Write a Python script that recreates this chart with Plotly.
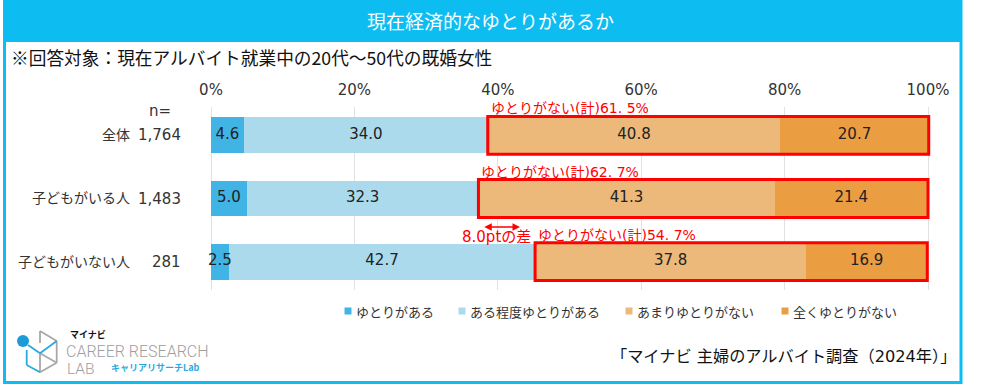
import plotly.graph_objects as go

# ---------------- data ----------------
categories = ["全体", "子どもがいる人", "子どもがいない人"]
n_values = ["1,764", "1,483", "281"]
series_names = ["ゆとりがある", "ある程度ゆとりがある", "あまりゆとりがない", "全くゆとりがない"]
yutori_aru = [4.6, 5.0, 2.5]
teido_aru = [34.0, 32.3, 42.7]
amari_nai = [40.8, 41.3, 37.8]
mattaku_nai = [20.7, 21.4, 16.9]
nai_total_labels = ["61. 5%", "62. 7%", "54. 7%"]
diff_label = "8.0ptの差"
x_tick_vals = [0, 20, 40, 60, 80, 100]

colors = ["#41B4E6", "#AADAEC", "#EDB97B", "#EB9D42"]
series = [yutori_aru, teido_aru, amari_nai, mattaku_nai]

W, H = 981, 386
L, R, T, B = 207, 48, 107, 96
PW = W - L - R
PH = H - T - B
FONT = "DejaVu Sans, Noto Sans CJK JP, sans-serif"
JP = "Noto Sans CJK JP, sans-serif"
CYAN = "#0DBDF2"
RED = "#FF0000"

def pxx(x):
    return (x - L) / PW

def pxy(y):
    return (H - B - y) / PH

# x range so that 0% -> 211px, 100% -> 928px
ppu = (928 - 211) / 100.0
x_lo = -(211 - L) / ppu
x_hi = 100 + (L + PW - 928) / ppu

fig = go.Figure()

# stacked bars
for name, vals, col in zip(series_names, series, colors):
    fig.add_trace(go.Bar(
        y=categories, x=vals, name=name, orientation="h",
        marker=dict(color=col, line=dict(width=0)),
        width=0.57, showlegend=False, hoverinfo="x+name",
    ))

# value labels, centred on each segment (on top of all bars)
lab_x, lab_y, lab_t = [], [], []
for i, cat in enumerate(categories):
    start = 0.0
    for vals in series:
        v = vals[i]
        lab_x.append(start + v / 2)
        lab_y.append(cat)
        lab_t.append(f"{v:.1f}")
        start += v
fig.add_trace(go.Scatter(
    x=lab_x, y=lab_y, text=lab_t, mode="text",
    textfont=dict(family=FONT, size=15, color="#222222"),
    showlegend=False, hoverinfo="skip",
))

shapes = []
annotations = []

# frame and title bar
shapes.append(dict(type="rect", xref="paper", yref="paper",
                   x0=pxx(4), x1=pxx(961), y0=pxy(0), y1=pxy(42),
                   fillcolor=CYAN, line=dict(width=0), layer="below"))
shapes.append(dict(type="rect", xref="paper", yref="paper",
                   x0=pxx(4.5), x1=pxx(961), y0=pxy(382.5), y1=pxy(1),
                   line=dict(color=CYAN, width=3), layer="above"))

# red boxes around "no room" segments
for i, cat in enumerate(categories):
    x0 = yutori_aru[i] + teido_aru[i]
    x1 = x0 + amari_nai[i] + mattaku_nai[i]
    shapes.append(dict(type="rect", xref="x", yref="y",
                       x0=x0, x1=x1, y0=i - 0.3, y1=i + 0.3,
                       line=dict(color=RED, width=3), layer="above"))
    annotations.append(dict(x=x0, y=i - 0.3, xref="x", yref="y",
                            xanchor="left", yanchor="bottom", xshift=1, yshift=-2,
                            text="ゆとりがない(計)" + nai_total_labels[i],
                            showarrow=False,
                            font=dict(family=FONT, size=14, color=RED)))
    annotations.append(dict(x=pxx(183), y=cat, xref="paper", yref="y",
                            xanchor="right", yanchor="middle",
                            text=n_values[i], showarrow=False,
                            font=dict(family=FONT, size=15, color="#333333")))

# difference arrow and label
x_a = yutori_aru[1] + teido_aru[1]
x_b = yutori_aru[2] + teido_aru[2]
annotations.append(dict(x=x_b - 2.1, y=1.45, ax=x_a + 0.6, ay=1.45,
                        xref="x", yref="y", axref="x", ayref="y",
                        text="", showarrow=True, arrowside="end+start",
                        arrowhead=2, arrowsize=1, arrowwidth=1.5,
                        arrowcolor=RED))
annotations.append(dict(x=(x_a + x_b) / 2 - 1.5, y=1.5, xref="x", yref="y",
                        xanchor="center", yanchor="middle", yshift=-7,
                        text=diff_label, showarrow=False,
                        font=dict(family=FONT, size=15, color=RED)))

# legend (small squares + labels)
legend_sq_x = [348, 462, 629, 785]
for name, col, sx in zip(series_names, colors, legend_sq_x):
    shapes.append(dict(type="rect", xref="paper", yref="paper",
                       x0=pxx(sx - 3.5), x1=pxx(sx + 3.5),
                       y0=pxy(314.5), y1=pxy(307.5),
                       fillcolor=col, line=dict(width=0)))
    annotations.append(dict(x=pxx(sx + 6), y=pxy(311), xref="paper", yref="paper",
                            text=name, showarrow=False, xanchor="left", yanchor="middle",
                            font=dict(family=JP, size=13, color="#333333")))

# titles
annotations.append(dict(x=pxx(490), y=pxy(21), xref="paper", yref="paper",
                        text="現在経済的なゆとりがあるか", showarrow=False,
                        xanchor="center", yanchor="middle",
                        font=dict(family=JP, size=19, color="white")))
annotations.append(dict(x=pxx(9), y=pxy(57), xref="paper", yref="paper",
                        text="※回答対象：現在アルバイト就業中の20代～50代の既婚女性",
                        showarrow=False, xanchor="left", yanchor="middle",
                        font=dict(family=JP, size=17.7, color="#111111")))
annotations.append(dict(x=pxx(160), y=pxy(111), xref="paper", yref="paper",
                        text="n=", showarrow=False, xanchor="center", yanchor="middle",
                        font=dict(family=FONT, size=15, color="#333333")))
annotations.append(dict(x=pxx(958), y=pxy(356), xref="paper", yref="paper",
                        text="「マイナビ 主婦のアルバイト調査（2024年）」",
                        showarrow=False, xanchor="right", yanchor="middle",
                        font=dict(family=FONT, size=16.2, color="#111111")))

# logo
GRAY = "#A8A8A8"
LBLUE = "#2BA8E0"
gray_lines = [((40, 331), (40, 343)), ((40, 331), (56.7, 341)),
              ((56.7, 341), (56.7, 362.7)), ((56.7, 362.7), (40, 372.3)),
              ((40, 353.3), (56.7, 362.7)), ((40, 353.3), (40, 372.3))]
blue_lines = [((28, 345), (40, 353.3)), ((40, 353.3), (56.7, 341)),
              ((26.7, 350), (26.7, 365)), ((26.7, 365), (40, 372.3))]
for (a, b) in gray_lines:
    shapes.append(dict(type="line", xref="paper", yref="paper",
                       x0=pxx(a[0]), y0=pxy(a[1]), x1=pxx(b[0]), y1=pxy(b[1]),
                       line=dict(color=GRAY, width=1.8)))
for (a, b) in blue_lines:
    shapes.append(dict(type="line", xref="paper", yref="paper",
                       x0=pxx(a[0]), y0=pxy(a[1]), x1=pxx(b[0]), y1=pxy(b[1]),
                       line=dict(color=LBLUE, width=1.8)))
shapes.append(dict(type="circle", xref="paper", yref="paper",
                   x0=pxx(17), x1=pxx(29), y0=pxy(347), y1=pxy(335),
                   fillcolor="#1E9BD7", line=dict(width=0)))
annotations.append(dict(x=pxx(68), y=pxy(334), xref="paper", yref="paper",
                        text="<b>マイナビ</b>", showarrow=False,
                        xanchor="left", yanchor="middle",
                        font=dict(family=JP, size=9, color="#111111")))
annotations.append(dict(x=pxx(64), y=pxy(351), xref="paper", yref="paper",
                        text="CAREER RESEARCH", showarrow=False,
                        xanchor="left", yanchor="middle",
                        font=dict(family="Roboto", size=16, color="#9E9E9E", weight=300)))
annotations.append(dict(x=pxx(65), y=pxy(369), xref="paper", yref="paper",
                        text="LAB", showarrow=False,
                        xanchor="left", yanchor="middle",
                        font=dict(family="Roboto", size=15.5, color="#9E9E9E", weight=300)))
annotations.append(dict(x=pxx(109), y=pxy(367), xref="paper", yref="paper",
                        text="<b>キャリアリサーチLab</b>", showarrow=False,
                        xanchor="left", yanchor="middle",
                        font=dict(family=JP, size=9, color=LBLUE)))

fig.update_layout(
    width=W, height=H,
    margin=dict(l=L, r=R, t=T, b=B, pad=0, autoexpand=False),
    barmode="stack",
    paper_bgcolor="white", plot_bgcolor="white",
    font=dict(family=FONT, color="#333333"),
    shapes=shapes, annotations=annotations,
    showlegend=False,
    xaxis=dict(side="top", range=[x_lo, x_hi], tickvals=x_tick_vals,
               ticktext=[f"{v}%" for v in x_tick_vals],
               showgrid=True, gridcolor="#E2E2E2", gridwidth=1,
               zeroline=False, showline=False, ticks="", automargin=False,
               ticklabelstandoff=8,
               tickfont=dict(family=FONT, size=15, color="#333333"),
               fixedrange=True),
    yaxis=dict(range=[2.45, -0.45], type="category", showgrid=False,
               zeroline=False, showline=False, ticks="", automargin=False,
               ticklabelstandoff=76,
               tickfont=dict(family=JP, size=14, color="#333333"),
               fixedrange=True),
)

fig.write_html("out.html",
               config={"displayModeBar": False},
               post_script="document.body.style.margin='0px';document.body.style.overflow='hidden';")
